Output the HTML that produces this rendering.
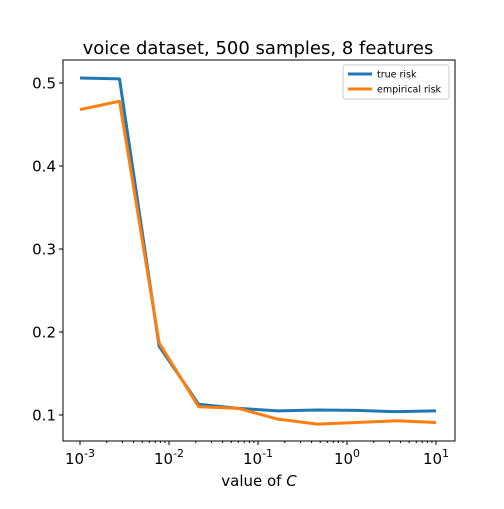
<!DOCTYPE html>
<html><head><meta charset="utf-8"><style>body{margin:0;background:#fff}svg text{font-family:"DejaVu Sans","Liberation Sans",sans-serif}</style></head>
<body>
<svg id="c" width="504" height="504" xmlns="http://www.w3.org/2000/svg"></svg>
<script>
const cValues=[0.001,0.00278,0.00774,0.0215,0.0599,0.167,0.464,1.29,3.59,10];
const trueRisk=[0.506,0.505,0.183,0.113,0.108,0.105,0.106,0.1055,0.104,0.105];
const empRisk=[0.468,0.478,0.187,0.110,0.108,0.095,0.089,0.091,0.093,0.091];
const yTicks=[0.1,0.2,0.3,0.4,0.5];
const xTickExp=[-3,-2,-1,0,1];
const L=63,R=455,T=60,B=441;
const xs=v=>80+(Math.log10(v)+3)*89;
const ys=v=>415-(v-0.1)*830;
const svg=document.getElementById('c');const NS='http://www.w3.org/2000/svg';
function el(t,a,p){const e=document.createElementNS(NS,t);for(const k in a)e.setAttribute(k,a[k]);(p||svg).appendChild(e);return e;}
const t=el('text',{x:258,y:54,'text-anchor':'middle','font-size':18});t.textContent='voice dataset, 500 samples, 8 features';

function line(d,col,name){const p=el('polyline',{points:cValues.map((c,i)=>xs(c)+','+ys(d[i])).join(' '),fill:'none',stroke:col,'stroke-width':3,'stroke-linejoin':'round'});
}
line(trueRisk,'#1f77b4','true-risk-line');line(empRisk,'#ff7f0e','empirical-risk-line');
const f=el('rect',{x:L,y:T,width:R-L,height:B-T,fill:'none',stroke:'#000','stroke-width':1});

yTicks.forEach(v=>{const y=ys(v);el('line',{x1:L-4,x2:L,y1:y,y2:y,stroke:'#000'});
const tx=el('text',{x:L-7,y:y+5.5,'text-anchor':'end','font-size':15});tx.textContent=v.toFixed(1);
});
xTickExp.forEach(e=>{const x=xs(Math.pow(10,e));el('line',{x1:x,x2:x,y1:B,y2:B+4,stroke:'#000'});
for(let k=2;k<10&&e<1;k++){const xm=xs(k*Math.pow(10,e));el('line',{x1:xm,x2:xm,y1:B,y2:B+2,stroke:'#000'});}
const tx=el('text',{x:x,y:B+23,'text-anchor':'middle','font-size':15});tx.innerHTML='10<tspan dy="-7" font-size="11">'+e+'</tspan>';
});
const xl=el('text',{x:259,y:486,'text-anchor':'middle','font-size':15});xl.innerHTML='value of <tspan font-style="italic">C</tspan>';

const g=el('g',{});
el('rect',{x:343,y:65,width:106,height:34,rx:2,fill:'#fff',stroke:'#ccc'},g);
[['#1f77b4','true risk',74],['#ff7f0e','empirical risk',89]].forEach(([c,s,y])=>{el('line',{x1:348,x2:372,y1:y,y2:y,stroke:c,'stroke-width':3},g);
const tx=el('text',{x:377,y:y+3.5,'font-size':9.5},g);tx.textContent=s;});
</script>
</body></html>
